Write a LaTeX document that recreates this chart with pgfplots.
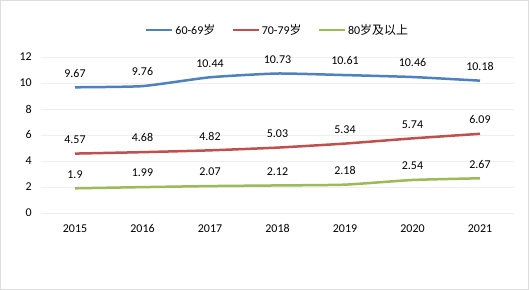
\documentclass[border=0pt]{standalone}
\usepackage{pgfplots}
\pgfplotsset{compat=1.18}
\usepackage{fontspec}
\setmainfont{Carlito}
\newfontfamily\cjk{Noto Sans CJK SC}
\definecolor{cblue}{HTML}{4F81BD}
\definecolor{cred}{HTML}{C0504D}
\definecolor{cgreen}{HTML}{9BBB59}
\definecolor{cgrid}{HTML}{EFEFEF}
\definecolor{cframe}{HTML}{DDDDDD}
\begin{document}
\begin{tikzpicture}
\fill[white] (0,0) rectangle (530bp,290bp);
\draw[cframe, line width=0.6bp] (0.3bp,0.3bp) rectangle (528.5bp,289.5bp);
\begin{axis}[
  at={(41.25bp,77bp)}, anchor=south west,
  scale only axis, width=472.5bp, height=156bp,
  xmin=-0.5, xmax=6.5, ymin=0, ymax=12,
  xtick={0,...,6}, xticklabels={2015,2016,2017,2018,2019,2020,2021},
  ytick={0,2,...,12},
  axis line style={draw=none},
  major tick length=0pt,
  ymajorgrids, grid style={cgrid, line width=0.8bp},
  tick label style={font=\fontsize{12}{14}\selectfont},
  /pgf/number format/assume math mode=true,
  xticklabel style={yshift=-8bp},
  yticklabel style={xshift=-6bp},
  nodes near coords,
  nodes near coords style={font=\fontsize{12}{14}\selectfont, anchor=south, yshift=5.5bp, text=black},
  point meta=explicit symbolic,
  legend style={at={(0.5,1)}, anchor=south, yshift=17bp, draw=none, fill=none,
    legend columns=-1, font=\fontsize{12}{14}\selectfont,
    /tikz/every even column/.append style={column sep=14bp}},
  legend image code/.code={\draw[#1, line width=2.5bp] (0bp,0bp) -- (26bp,0bp);},
  every axis plot/.append style={line width=2.5bp, smooth, tension=0.3, no markers},
]
\addplot[cblue] coordinates {(0,9.67)[9.67] (1,9.76)[9.76] (2,10.44)[10.44] (3,10.73)[10.73] (4,10.61)[10.61] (5,10.46)[10.46] (6,10.18)[10.18]};
\addlegendentry{60-69{\cjk 岁}}
\addplot[cred] coordinates {(0,4.57)[4.57] (1,4.68)[4.68] (2,4.82)[4.82] (3,5.03)[5.03] (4,5.34)[5.34] (5,5.74)[5.74] (6,6.09)[6.09]};
\addlegendentry{70-79{\cjk 岁}}
\addplot[cgreen] coordinates {(0,1.9)[1.9] (1,1.99)[1.99] (2,2.07)[2.07] (3,2.12)[2.12] (4,2.18)[2.18] (5,2.54)[2.54] (6,2.67)[2.67]};
\addlegendentry{80{\cjk 岁及以上}}
\end{axis}
\end{tikzpicture}
\end{document}
